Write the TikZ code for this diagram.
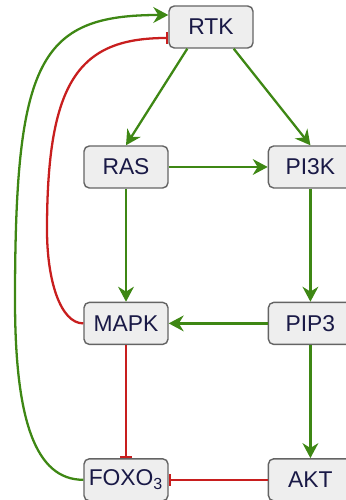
\documentclass[tikz,border=0pt]{standalone}
\usepackage{fontspec}
\setsansfont{Liberation Sans}
\usetikzlibrary{positioning,arrows.meta}
\definecolor{boxfill}{RGB}{238,238,238}
\definecolor{boxline}{RGB}{100,100,100}
\definecolor{boxtext}{RGB}{25,25,70}
\definecolor{actgreen}{RGB}{62,135,20}
\definecolor{inhred}{RGB}{200,30,30}
\tikzset{basic/.style={draw=boxline,fill=boxfill,line width=0.8pt,rounded corners=3pt,minimum width=1.68cm,minimum height=0.84cm,inner sep=0pt,text=boxtext,font=\sffamily\fontsize{13}{15}\selectfont}}
\tikzset{activate/.style={draw=actgreen,line width=1.3pt,-{Stealth[length=8.5pt,width=9pt,fill=actgreen]}}}
\tikzset{inhibit/.style={draw=inhred,line width=1.3pt,-{Bar[width=7pt,line width=1.3pt]}}}

\begin{document}
\begin{tikzpicture}
        \useasboundingbox (0,0) rectangle (6.9,10);
        \node[basic] (RTK) at (4.22,9.46) {RTK};
        \node[basic] (RAS) at (2.52,6.66) {RAS};
        \node[basic,right=1.98cm of RAS] (PI3K) {PI3K};
        \node[basic,below=2.26cm of RAS] (MAPK) {MAPK};
        \node[basic,below=2.26cm of PI3K] (PIP3) {PIP3};
        \node[basic,below=2.26cm of MAPK] (FOXO3) {FOXO\textsubscript{3}};
        \node[basic,below=2.26cm of PIP3] (AKT) {AKT};
        \coordinate (gbend) at (0.30,4.0);
        \coordinate (rbend) at (0.94,5.4);
            \path[activate] ([xshift=0.38cm]RTK.south west) -- (RAS.north);
            \path[activate] ([xshift=-0.4cm]RTK.south east) -- (PI3K.north);
            \path[activate] (RAS.east) -- (PI3K.west);
            \path[activate] (RAS.south) -- (MAPK.north);
            \path[activate] (PI3K.south) -- (PIP3.north);
            \path[activate] (PIP3.west) -- (MAPK.east);
            \path[activate] (PIP3.south) -- (AKT.north);
            \path[inhibit] (MAPK.south) -- (FOXO3.north);
            \path[inhibit] (AKT.west) -- (FOXO3.east);
        % feedback loops
            \path[inhibit] (MAPK.west) to[out=180,in=-90,out distance=0.46cm,in distance=1cm] (rbend)
                to[out=90,in=180,out distance=3cm,in distance=1.78cm] ([yshift=-0.22cm]RTK.west);
            \path[activate] (FOXO3.west) to[out=180,in=-90,out distance=0.96cm,in distance=2.4cm] (gbend)
                to[out=90,in=180,out distance=4.8cm,in distance=2.58cm] ([yshift=0.24cm]RTK.west);
    \end{tikzpicture}
\end{document}
